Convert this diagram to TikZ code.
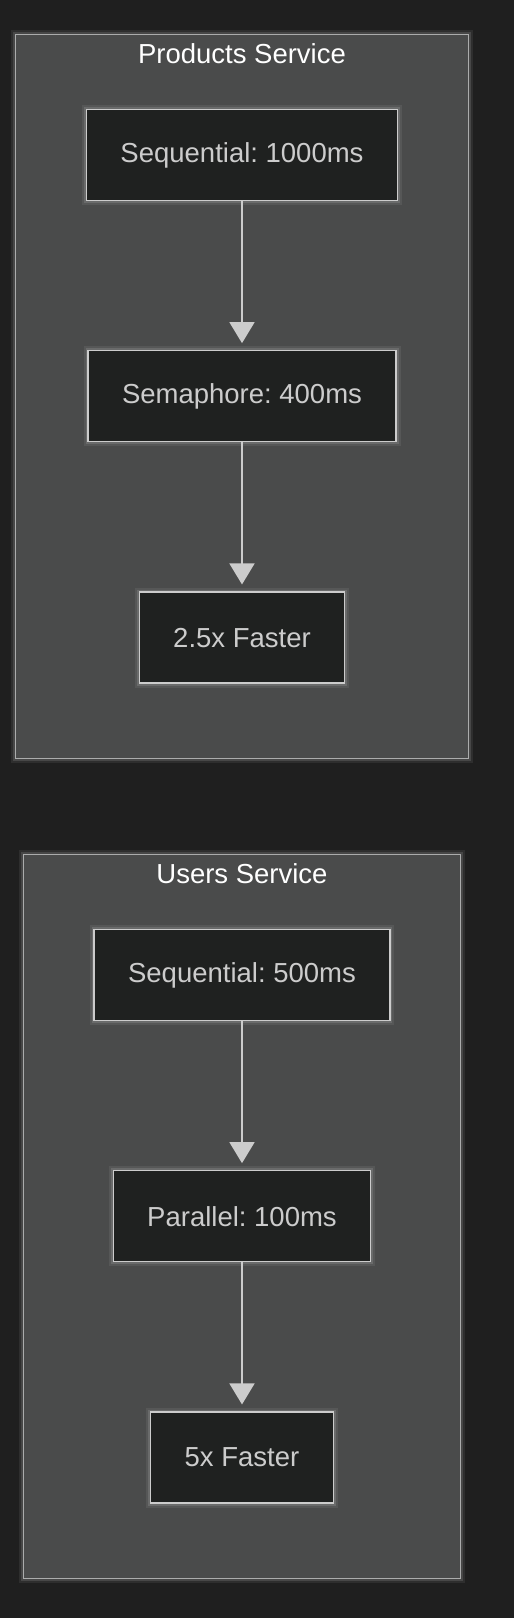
\documentclass[tikz,border=0pt]{standalone}
\usepackage{fontspec}
\setmainfont{Liberation Sans}
\usetikzlibrary{arrows.meta, positioning, fit, backgrounds}
\frenchspacing
\definecolor{canvas}{HTML}{1F1F1F}
\definecolor{clusterfill}{HTML}{4A4B4B}
\definecolor{boxfill}{HTML}{1F2120}
\definecolor{edgegray}{HTML}{CCCCCC}
\tikzstyle{glow} = [preaction={draw=white, draw opacity=0.07, line width=9pt}, preaction={draw=white, draw opacity=0.12, line width=5pt}]
\tikzstyle{stage} = [rectangle, minimum height=91pt, inner xsep=34pt, text centered, draw=edgegray, line width=1.3pt, fill=boxfill, text=edgegray, font=\fontsize{27.5}{32}\selectfont, glow]
\tikzstyle{cluster} = [rectangle, draw=edgegray!75!clusterfill, line width=1.3pt, fill=clusterfill, inner xsep=70pt, inner ysep=74.5pt, glow]
\tikzstyle{title} = [text=white, font=\fontsize{27.5}{32}\selectfont]
\tikzstyle{arrow} = [line width=1.5pt, draw=edgegray, -{Triangle[width=25pt,length=21pt]}, shorten >=7pt]

\begin{document}
\begin{tikzpicture}[x=1pt, y=-1pt, node distance=149pt]
		\useasboundingbox (0,0) rectangle (514,1618);
		% products service
		\node (seqp) [stage] at (242,155) {Sequential: 1000ms};
		\node (sema) [stage, below=of seqp] {Semaphore: 400ms};
		\node (fastp) [stage, below=of sema] {2.5x Faster};
		% users service
		\node (sequ) [stage] at (242,975) {Sequential: 500ms};
		\node (para) [stage, below=of sequ] {Parallel: 100ms};
		\node (fastu) [stage, below=of para] {5x Faster};

		\begin{scope}[on background layer]
			\fill [canvas] (0,0) rectangle (514,1618);
			\node (products) [cluster, fit=(seqp)(sema)(fastp)] {};
			\node (users) [cluster, fit=(sequ)(para)(fastu)] {};
		\end{scope}
		\node (ptitle) [title] at ([yshift=-20pt]products.north) {Products Service};
		\node (utitle) [title] at ([yshift=-20pt]users.north) {Users Service};

		\draw [arrow] (seqp) -- (sema);
		\draw [arrow] (sema) -- (fastp);
		\draw [arrow] (sequ) -- (para);
		\draw [arrow] (para) -- (fastu);
\end{tikzpicture}
\end{document}
